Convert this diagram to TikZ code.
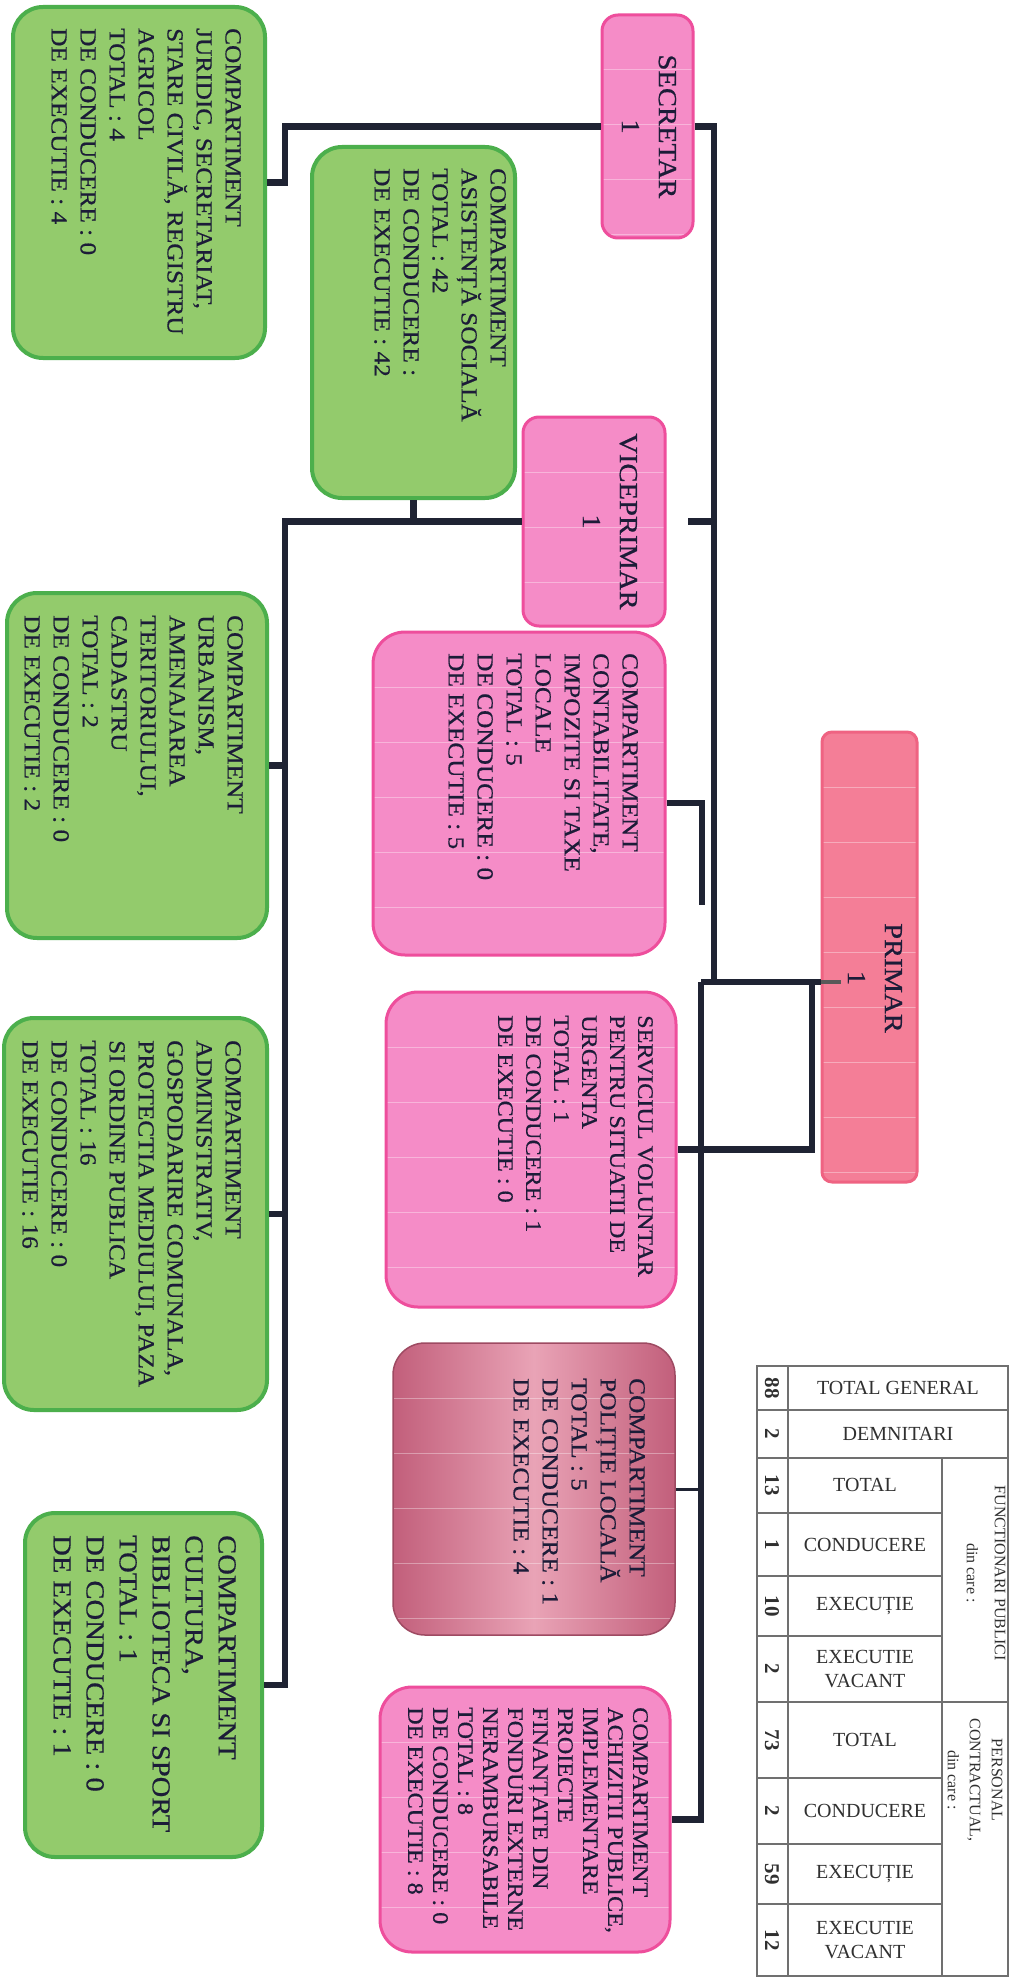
\documentclass[tikz,border=0pt]{standalone}
\usepackage{fontspec}
\setmainfont{Liberation Serif}
\newfontfamily\bx[FakeStretch=1.1, FakeBold=0.6]{Liberation Serif}
\definecolor{gFill}{HTML}{93CB6C}
\definecolor{gEdge}{HTML}{4CAF4C}
\definecolor{pFill}{HTML}{F58CC7}
\definecolor{pEdge}{HTML}{EE4E9C}
\definecolor{rFill}{HTML}{F47E97}
\definecolor{rEdge}{HTML}{EF6382}
\definecolor{dEdge}{HTML}{9E4A62}
\definecolor{dDark}{HTML}{C25F7B}
\definecolor{dLight}{HTML}{E9A3B6}
\definecolor{lineC}{HTML}{1F2333}
\definecolor{txtC}{HTML}{1C1C38}
\definecolor{tabC}{HTML}{707070}
\definecolor{tabT}{HTML}{303030}
\begin{document}
\begin{tikzpicture}[x=1pt,y=-1pt,
  stripes/.style={path picture={\foreach \k in {1,...,11}{\draw[white, opacity=.35, line width=1pt] ([yshift=-\k*55pt]path picture bounding box.north west) -- ([yshift=-\k*55pt]path picture bounding box.north east);}}},
  gbox/.style={draw=gEdge, line width=4pt, fill=gFill, rounded corners=30pt, inner sep=0pt},
  pbox/.style={draw=pEdge, line width=3pt, fill=pFill, rounded corners=32pt, inner sep=0pt, stripes},
  tbox/.style={draw=pEdge, line width=3pt, fill=pFill, rounded corners=16pt, inner sep=0pt, stripes},
  rbox/.style={draw=rEdge, line width=3pt, fill=rFill, rounded corners=10pt, inner sep=0pt, stripes},
  dbox/.style={draw=dEdge, line width=1.5pt, left color=dDark, right color=dDark, middle color=dLight, rounded corners=32pt, inner sep=0pt, stripes},
  txt/.style={rotate=-90, anchor=north west, inner sep=0pt, align=left, text=txtC},
  ttl/.style={rotate=-90, anchor=center, inner sep=0pt, align=center, text=txtC, font={\bx\fontsize{26}{37}\selectfont}},
  conn/.style={draw=lineC, line width=6.5pt},
  tline/.style={draw=tabC, line width=1.3pt},
  num/.style={rotate=-90, anchor=center, inner sep=0pt, text=tabT, font={\bfseries\fontsize{21}{22}\selectfont}},
  lab/.style={anchor=center, inner sep=0pt, align=center, text=tabT, font={\fontsize{20}{24}\selectfont}},
  grp/.style={rotate=-90, anchor=center, inner sep=0pt, align=center, text=tabT},
  f23/.style={font={\bx\fontsize{23}{29}\selectfont}}
]
\useasboundingbox[fill=white] (0,0) rectangle (1010,1977);

% ---------- boxes ----------
\node[gbox, minimum width=252pt, minimum height=351pt] (jur) at (139,182.5) {};
\node[gbox, minimum width=203pt, minimum height=351pt] (asi) at (413.5,322.5) {};
\node[tbox, minimum width=91pt, minimum height=223pt] (sec) at (647.5,126.5) {};
\node[tbox, minimum width=142pt, minimum height=209pt] (vic) at (594,521.5) {};
\node[pbox, minimum width=292pt, minimum height=323pt] (con) at (519,793.5) {};
\node[gbox, minimum width=260pt, minimum height=345pt] (urb) at (137,765.5) {};
\node[rbox, minimum width=95pt, minimum height=450pt] (pri) at (869.5,957) {};
\node[pbox, minimum width=290pt, minimum height=315pt] (ser) at (531,1149.5) {};
\node[gbox, minimum width=263pt, minimum height=392pt] (adm) at (135.5,1214) {};
\node[dbox, minimum width=282pt, minimum height=292pt] (pol) at (534,1489) {};
\node[gbox, minimum width=237pt, minimum height=344pt] (cul) at (143.5,1685) {};
\node[pbox, minimum width=290pt, minimum height=265pt] (ach) at (525,1819.5) {};

% ---------- connectors ----------
\coordinate (uB) at (714,982);
\coordinate (lowT) at (701,982);
\coordinate (bk) at (812,982);
\coordinate (stA) at (688,521.5);
\coordinate (cE) at ([yshift=-9.5pt]con.east);
\coordinate (cD) at (702,905);
\coordinate (lTop) at (285,521.5);
\draw[conn] (jur.east) -- ++(18,0) |- (sec.west);
\draw[conn] (sec.east) -| (uB);
\draw[conn] (stA) -- (stA -| uB);
\draw[conn] (cE) -| (cD);
\draw[conn] (lowT) -- (lowT -| pri.west);
\draw[conn] (lowT) -- (lowT |- ach.east) -- (ach.east);
\draw[conn] (bk) |- (ser.east);
\draw[draw=lineC, line width=3pt] (pol.east) -- (lowT |- pol.east);
\draw[conn] (vic.west) -- (lTop) -- (lTop |- cul.east) -- (cul.east);
\draw[conn] (asi.south) -- (asi.south |- vic.west);
\draw[conn] (urb.east) -- (lTop |- urb.east);
\draw[conn] (adm.east) -- (lTop |- adm.east);
\draw[draw=gray!70!black, line width=4pt] (lowT -| pri.west) -- ++(20,0);

% ---------- texts ----------
\node[txt, f23] (jurT) at (241,28) {COMPARTIMENT\\JURIDIC, SECRETARIAT,\\STARE CIVILĂ, REGISTRU\\AGRICOL\\TOTAL : 4\\DE CONDUCERE : 0\\DE EXECUTIE : 4};
\node[txt, f23] (asiT) at (506,168) {COMPARTIMENT\\ASISTENȚĂ SOCIALĂ\\TOTAL : 42\\DE CONDUCERE :\\DE EXECUTIE : 42};
\node[ttl] (secT) at (649,126.5) {SECRETAR\\1};
\node[ttl] (vicT) at (610,521.5) {VICEPRIMAR\\1};
\node[ttl] (priT) at (875,978) {PRIMAR\\1};
\node[txt, f23] (conT) at (638,653) {COMPARTIMENT\\CONTABILITATE,\\IMPOZITE SI TAXE\\LOCALE\\TOTAL : 5\\DE CONDUCERE : 0\\DE EXECUTIE : 5};
\node[txt, f23] (urbT) at (243,615) {COMPARTIMENT\\URBANISM,\\AMENAJAREA\\TERITORIULUI,\\CADASTRU\\TOTAL : 2\\DE CONDUCERE : 0\\DE EXECUTIE : 2};
\node[txt, font={\bx\fontsize{22}{28}\selectfont}] (serT) at (653,1015) {SERVICIUL VOLUNTAR\\PENTRU SITUATII DE\\URGENTA\\TOTAL : 1\\DE CONDUCERE : 1\\DE EXECUTIE : 0};
\node[txt, f23] (admT) at (241,1040) {COMPARTIMENT\\ADMINISTRATIV,\\GOSPODARIRE COMUNALA,\\PROTECTIA MEDIULUI, PAZA\\SI ORDINE PUBLICA\\TOTAL : 16\\DE CONDUCERE : 0\\DE EXECUTIE : 16};
\node[txt, f23] (polT) at (645,1378) {COMPARTIMENT\\POLIȚIE LOCALĂ\\TOTAL : 5\\DE CONDUCERE : 1\\DE EXECUTIE : 4};
\node[txt, font={\bx\fontsize{26}{33}\selectfont}] (culT) at (236,1535) {COMPARTIMENT\\CULTURA,\\BIBLIOTECA SI SPORT\\TOTAL : 1\\DE CONDUCERE : 0\\DE EXECUTIE : 1};
\node[txt, font={\bx\fontsize{22}{25}\selectfont}] (achT) at (648,1707) {COMPARTIMENT\\ACHIZITII PUBLICE,\\IMPLEMENTARE\\PROIECTE\\FINANȚATE DIN\\FONDURI EXTERNE\\NERAMBURSABILE\\TOTAL : 8\\DE CONDUCERE : 0\\DE EXECUTIE : 8};

% ---------- table ----------
\draw[tline] (757,1366) rectangle (1008,1976);
\draw[tline] (788,1366) -- (788,1976);
\draw[tline] (942,1458) -- (942,1976);
\draw[tline] (757,1410) -- (1008,1410);
\draw[tline] (757,1458) -- (1008,1458);
\draw[tline] (757,1702) -- (1008,1702);
\foreach \yy in {1513,1576,1636,1778,1844,1904} {\draw[tline] (757,\yy) -- (942,\yy);}

\node[num] (n1) at (772,1388) {88};
\node[num] (n2) at (772,1434) {2};
\node[num] (n3) at (772,1485) {13};
\node[num] (n4) at (772,1545) {1};
\node[num] (n5) at (772,1606) {10};
\node[num] (n6) at (772,1669) {2};
\node[num] (n7) at (772,1740) {73};
\node[num] (n8) at (772,1811) {2};
\node[num] (n9) at (772,1874) {59};
\node[num] (n10) at (772,1940) {12};

\node[lab] (l1) at (898,1388) {TOTAL GENERAL};
\node[lab] (l2) at (898,1434) {DEMNITARI};
\node[lab] (l3) at (865,1485) {TOTAL};
\node[lab] (l4) at (865,1545) {CONDUCERE};
\node[lab] (l5) at (865,1606) {EXECUȚIE};
\node[lab] (l6) at (865,1669) {EXECUTIE\\VACANT};
\node[lab] (l7) at (865,1740) {TOTAL};
\node[lab] (l8) at (865,1811) {CONDUCERE};
\node[lab] (l9) at (865,1874) {EXECUȚIE};
\node[lab] (l10) at (865,1940) {EXECUTIE\\VACANT};

\node[grp, font={\fontsize{16}{28}\selectfont}] (g1) at (986,1573) {FUNCTIONARI PUBLICI\\din care :};
\node[grp, font={\fontsize{16}{22}\selectfont}] (g2) at (975,1780) {PERSONAL\\CONTRACTUAL,\\din care :};
\end{tikzpicture}
\end{document}
